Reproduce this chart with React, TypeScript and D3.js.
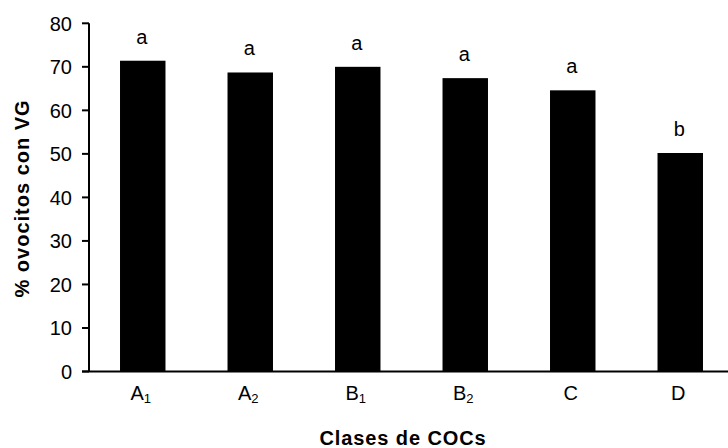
import React from "react";
import * as d3 from "d3";

const categories = ["A1", "A2", "B1", "B2", "C", "D"];
const values = [71.4, 68.7, 70.0, 67.4, 64.6, 50.2];
const letters = ["a", "a", "a", "a", "a", "b"];
const yTicks = [0, 10, 20, 30, 40, 50, 60, 70, 80];
const yTitle = "% ovocitos con VG";
const xTitle = "Clases de COCs";

const W = 728;
const H = 448;
const FONT = "'Liberation Sans', Arial, Helvetica, sans-serif";

export default function App() {
  const x0 = 89;
  const step = 107.5;
  const x = d3
    .scaleBand<string>()
    .domain(categories)
    .range([x0, x0 + step * categories.length])
    .paddingInner(0.577)
    .paddingOuter(0.2885);
  const y = d3.scaleLinear().domain([0, 80]).range([371.5, 23.3]);

  return (
    <svg
      width={W}
      height={H}
      style={{ position: "absolute", left: 0, top: 0, background: "#fff" }}
      fontFamily={FONT}
    >
      <rect x={0} y={0} width={W} height={H} fill="#fff" />
      {categories.map((c, i) => (
        <rect
          key={c}
          x={x(c)!}
          y={y(values[i])}
          width={x.bandwidth()}
          height={y(0) - y(values[i])}
          fill="#000"
        />
      ))}
      {categories.map((c, i) => (
        <text
          key={"l" + c}
          x={x(c)! + x.bandwidth() / 2 - 1}
          y={y(values[i]) - 17}
          textAnchor="middle"
          fontSize={20}
          fill="#000"
        >
          {letters[i]}
        </text>
      ))}
      {/* y axis */}
      <line x1={x0} x2={x0} y1={y(80)} y2={y(0)} stroke="#000" strokeWidth={2} />
      {yTicks.map((t) => (
        <g key={t}>
          <line x1={x0 - 7} x2={x0} y1={y(t)} y2={y(t)} stroke="#000" strokeWidth={2} />
          <text
            x={72}
            y={y(t)}
            dy="0.36em"
            textAnchor="end"
            fontSize={20}
            fill="#000"
          >
            {t}
          </text>
        </g>
      ))}
      {/* x axis */}
      <line x1={x0 - 7} x2={x0 + step * categories.length} y1={y(0)} y2={y(0)} stroke="#000" strokeWidth={2} />
      {categories.map((c) => {
        const main = c.charAt(0);
        const sub = c.slice(1);
        return (
          <text
            key={"t" + c}
            x={x(c)! + x.bandwidth() / 2 - 2}
            y={400}
            textAnchor="middle"
            fontSize={20}
            fill="#000"
          >
            {main}
            {sub && (
              <tspan fontSize={13} dy={3}>
                {sub}
              </tspan>
            )}
          </text>
        );
      })}
      <text
        x={403}
        y={444.5}
        textAnchor="middle"
        fontSize={20}
        fontWeight="bold"
        letterSpacing={0.9}
        fill="#000"
      >
        {xTitle}
      </text>
      <text
        transform={`translate(29,${(y(0) + y(80)) / 2 + 1}) rotate(-90)`}
        textAnchor="middle"
        fontSize={20}
        fontWeight="bold"
        letterSpacing={1}
        fill="#000"
      >
        {yTitle}
      </text>
    </svg>
  );
}
